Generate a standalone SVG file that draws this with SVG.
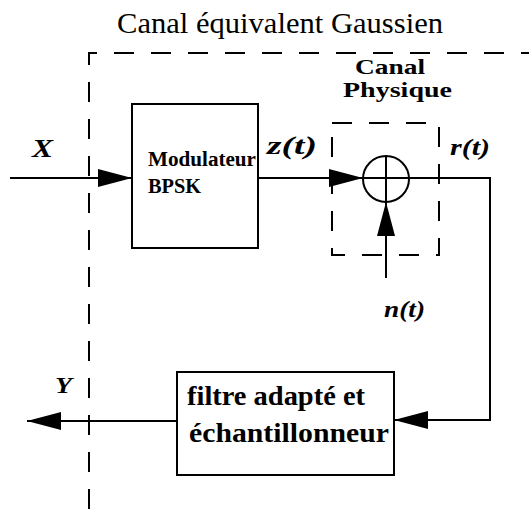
<svg xmlns="http://www.w3.org/2000/svg" width="529" height="509" viewBox="0 0 529 509">
<style>
  .box{fill:none;stroke:#000;stroke-width:2}
  .dash{fill:none;stroke:#000;stroke-width:2;stroke-dasharray:20 17}
  .wire{fill:none;stroke:#000;stroke-width:2}
  .t{font-family:"Liberation Serif","Times New Roman",serif;fill:#000}
  .b{font-weight:bold}
  .i{font-weight:bold;font-style:italic}
</style>
<defs>
  <marker id="ah" viewBox="0 0 34 18" refX="34" refY="9" markerWidth="34" markerHeight="18" markerUnits="userSpaceOnUse" orient="auto">
    <path d="M0,0 L34,9 L0,18 Z" fill="#000"/>
  </marker>
</defs>
<rect width="529" height="509" fill="#fff"/>

<g id="canal-equivalent">
  <path class="dash" d="M89,509 V53 H529"/>
  <text class="t" x="117" y="33" font-size="29" textLength="326" lengthAdjust="spacingAndGlyphs">Canal équivalent Gaussien</text>
</g>

<g id="canal-physique">
  <rect class="dash" x="332" y="123" width="107" height="132"/>
  <text class="t b" x="355" y="74" font-size="22" textLength="70" lengthAdjust="spacingAndGlyphs">Canal</text>
  <text class="t b" x="343" y="97" font-size="22" textLength="109" lengthAdjust="spacingAndGlyphs">Physique</text>
</g>

<g id="modulateur">
  <rect class="box" x="132" y="104" width="126" height="144"/>
  <text class="t b" x="148" y="166" font-size="20" textLength="108" lengthAdjust="spacingAndGlyphs">Modulateur</text>
  <text class="t b" x="148" y="193" font-size="20" textLength="53" lengthAdjust="spacingAndGlyphs">BPSK</text>
</g>

<g id="additionneur">
  <circle class="box" cx="386" cy="179" r="23"/>
  <line class="wire" x1="386" y1="156" x2="386" y2="202"/>
</g>

<g id="filtre">
  <rect class="box" x="177" y="372" width="217" height="103"/>
  <text class="t b" x="187" y="405" font-size="27" textLength="178" lengthAdjust="spacingAndGlyphs">filtre adapté et</text>
  <text class="t b" x="189" y="442" font-size="27" textLength="200" lengthAdjust="spacingAndGlyphs">échantillonneur</text>
</g>

<g id="labels">
  <text class="t i" x="32" y="157" font-size="26" textLength="21" lengthAdjust="spacingAndGlyphs">X</text>
  <text class="t i" x="267" y="154" font-size="26" textLength="50" lengthAdjust="spacingAndGlyphs">z(t)</text>
  <text class="t i" x="450" y="155" font-size="24" textLength="40" lengthAdjust="spacingAndGlyphs">r(t)</text>
  <text class="t i" x="384" y="317" font-size="24" textLength="41" lengthAdjust="spacingAndGlyphs">n(t)</text>
  <text class="t i" x="55" y="393" font-size="24" textLength="17" lengthAdjust="spacingAndGlyphs">Y</text>
</g>

<g id="connectors">
  <line class="wire" x1="10" y1="178" x2="132" y2="178" marker-end="url(#ah)"/>
  <line class="wire" x1="258" y1="178" x2="363" y2="178" marker-end="url(#ah)"/>
  <line class="wire" x1="363" y1="178" x2="409" y2="178"/>
  <polyline class="wire" points="409,178 490,178 490,420 394,420" marker-end="url(#ah)"/>
  <line class="wire" x1="386" y1="278" x2="386" y2="202" marker-end="url(#ah)"/>
  <line class="wire" x1="177" y1="421" x2="27" y2="421" marker-end="url(#ah)"/>
</g>
</svg>
